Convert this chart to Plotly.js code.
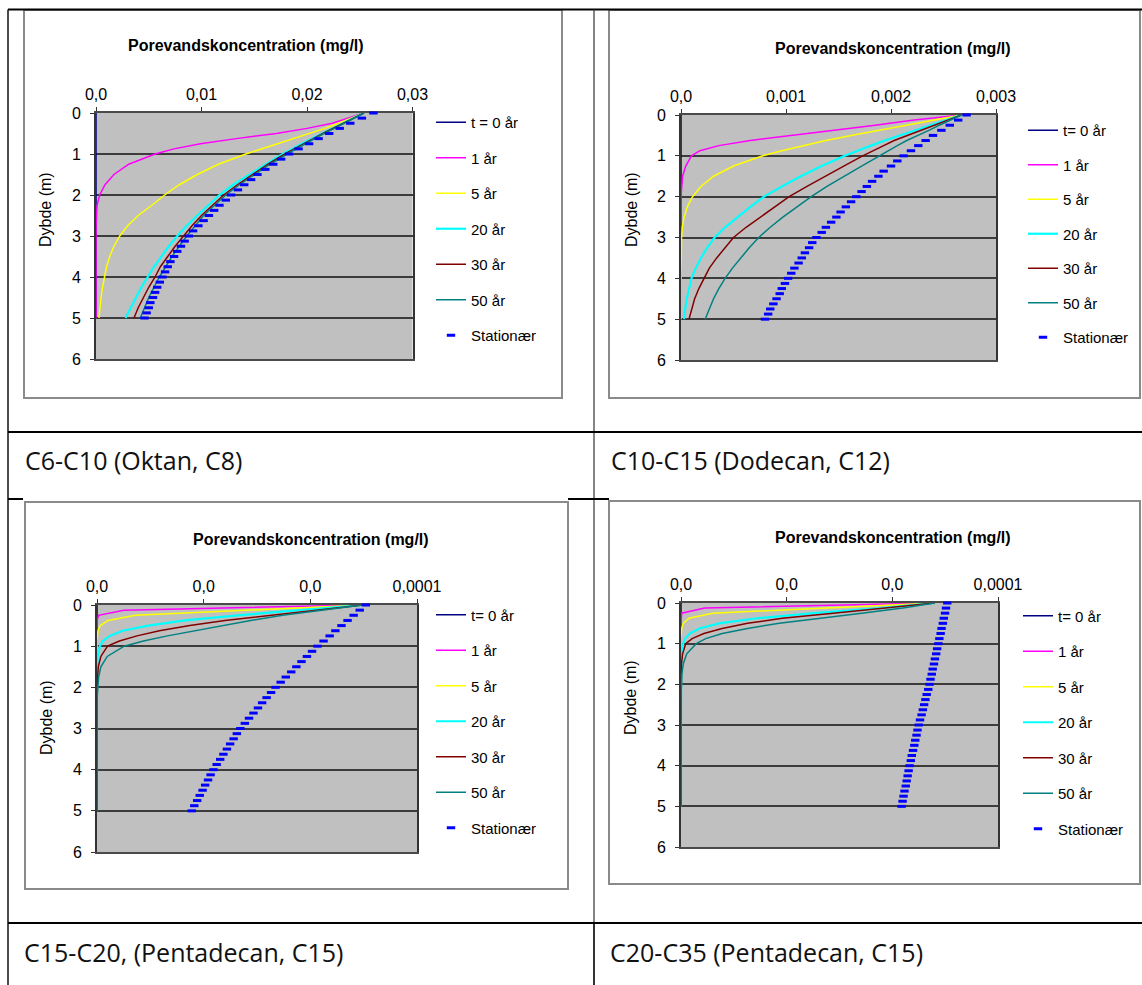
<!DOCTYPE html>
<html>
<head>
<meta charset="utf-8">
<script src="https://cdn.plot.ly/plotly-3.0.1.min.js"></script>
<style>
html,body{margin:0;padding:0;background:#fff;}
#chart{width:1142px;height:985px;}
</style>
</head>
<body>
<div id="chart"></div>
<script>
// ---------------- DATA ----------------
const chartTitle = 'Porevandskoncentration (mg/l)';
const yAxisTitle = 'Dybde (m)';
const captions = ['C6-C10 (Oktan, C8)', 'C10-C15 (Dodecan, C12)', 'C15-C20, (Pentadecan, C15)', 'C20-C35 (Pentadecan, C15)'];
const namesChart1 = ['t = 0 år', '1 år', '5 år', '20 år', '30 år', '50 år', 'Stationær'];
const namesOther  = ['t= 0 år', '1 år', '5 år', '20 år', '30 år', '50 år', 'Stationær'];

// depth (m)
const depthLines = [0,0.125,0.25,0.375,0.5,0.625,0.75,0.875,1,1.25,1.5,1.75,2,2.25,2.5,2.75,3,3.25,3.5,3.75,4,4.25,4.5,4.75,5];
const depthStation = [0,0.125,0.25,0.375,0.5,0.625,0.75,0.875,1,1.125,1.25,1.375,1.5,1.625,1.75,1.875,2,2.125,2.25,2.375,2.5,2.625,2.75,2.875,3,3.125,3.25,3.375,3.5,3.625,3.75,3.875,4,4.125,4.25,4.375,4.5,4.625,4.75,4.875,5];

const concT0 = [0,0,0,0,0,0,0,0,0,0,0,0,0,0,0,0,0,0,0,0,0,0,0,0,0];

// Chart 1: C6-C10 (values in 1e-3 mg/l)
const oktanUnit = 1e-3;
const oktan1 = [25.4,23.9,22.4,20.0,17.1,13.3,9.9,7.4,5.6,3.1,1.7,0.85,0.35,0.1,0.03,0.01,0,0,0,0,0,0,0,0,0];
const oktan5 = [25.4,24.25,23.0,21.7,20.2,18.7,17.2,15.7,14.2,11.6,9.6,7.9,6.5,5.3,4.0,3.0,2.25,1.7,1.3,1.0,0.8,0.62,0.48,0.37,0.28];
const oktan20 = [25.4,24.4,23.4,22.4,21.4,20.5,19.5,18.6,17.7,16.1,14.5,13.0,11.7,10.6,9.6,8.6,7.7,6.9,6.2,5.5,4.9,4.3,3.8,3.3,2.8];
const oktan30 = [25.4,24.4,23.5,22.5,21.5,20.6,19.7,18.8,17.9,16.3,14.8,13.4,12.1,11.0,10.0,9.1,8.3,7.5,6.8,6.1,5.6,5.0,4.5,4.0,3.6];
const oktan50 = [25.4,24.5,23.5,22.6,21.6,20.7,19.8,19.0,18.1,16.5,15.0,13.6,12.3,11.2,10.2,9.4,8.6,7.9,7.2,6.6,6.0,5.5,5.0,4.6,4.2];
const oktanStat = [26.3,25.2,24.1,23.1,22.1,21.1,20.2,19.2,18.3,17.55,16.8,16.05,15.3,14.7,14.05,13.45,12.8,12.3,11.7,11.2,10.7,10.2,9.7,9.2,8.8,8.4,8.05,7.7,7.4,7.05,6.8,6.55,6.3,6.05,5.8,5.6,5.4,5.15,5.0,4.8,4.6];

// Chart 2: C10-C15 (values in 1e-3 mg/l)
const dodecanUnit = 1e-3;
const dodecan1 = [2.67,2.22,1.85,1.47,1.06,0.66,0.36,0.18,0.10,0.045,0.015,0.005,0,0,0,0,0,0,0,0,0,0,0,0,0];
const dodecan5 = [2.67,2.40,2.14,1.87,1.62,1.38,1.16,0.96,0.78,0.50,0.31,0.19,0.11,0.06,0.03,0.012,0.005,0.002,0,0,0,0,0,0,0];
const dodecan20 = [2.67,2.52,2.37,2.22,2.08,1.94,1.81,1.68,1.56,1.34,1.14,0.96,0.79,0.66,0.54,0.42,0.32,0.25,0.19,0.14,0.10,0.075,0.055,0.04,0.03];
const dodecan30 = [2.67,2.54,2.41,2.28,2.15,2.03,1.93,1.83,1.73,1.55,1.37,1.20,1.03,0.89,0.75,0.62,0.50,0.42,0.34,0.27,0.22,0.17,0.13,0.10,0.076];
const dodecan50 = [2.67,2.56,2.46,2.36,2.25,2.15,2.06,1.97,1.89,1.72,1.55,1.39,1.24,1.10,0.97,0.85,0.74,0.65,0.57,0.49,0.42,0.36,0.31,0.27,0.23];
const dodecanStat = [2.72,2.64,2.56,2.48,2.40,2.33,2.26,2.19,2.12,2.06,2.00,1.93,1.88,1.82,1.77,1.72,1.67,1.62,1.57,1.52,1.48,1.43,1.38,1.34,1.29,1.25,1.22,1.18,1.15,1.12,1.08,1.05,1.02,0.99,0.96,0.94,0.91,0.88,0.85,0.83,0.80];

// Chart 3: C15-C20 (values in 1e-5 mg/l)
const penta1Unit = 1e-5;
const pentaA1 = [8.3,0.84,0.05,0,0,0,0,0,0,0,0,0,0,0,0,0,0,0,0,0,0,0,0,0,0];
const pentaA5 = [8.3,4.8,1.2,0.35,0.1,0.03,0.01,0,0,0,0,0,0,0,0,0,0,0,0,0,0,0,0,0,0];
const pentaA20 = [8.3,6.3,4.4,2.75,1.6,0.8,0.4,0.18,0.09,0.02,0.005,0,0,0,0,0,0,0,0,0,0,0,0,0,0];
const pentaA30 = [8.3,6.9,5.4,4.0,2.9,1.95,1.25,0.7,0.33,0.12,0.04,0.012,0.003,0,0,0,0,0,0,0,0,0,0,0,0];
const pentaA50 = [8.3,7.0,5.8,4.8,3.9,3.0,2.2,1.45,0.85,0.32,0.12,0.05,0.02,0.005,0,0,0,0,0,0,0,0,0,0,0];
const pentaAStat = [8.40,8.21,8.02,7.83,7.64,7.45,7.27,7.08,6.89,6.72,6.56,6.39,6.23,6.07,5.90,5.74,5.58,5.44,5.30,5.16,5.03,4.89,4.75,4.62,4.48,4.37,4.27,4.16,4.06,3.95,3.85,3.74,3.64,3.55,3.47,3.38,3.30,3.21,3.13,3.04,2.96];

// Chart 4: C20-C35 (values in 1e-5 mg/l)
const penta2Unit = 1e-5;
const pentaB1 = [8.0,0.75,0.02,0,0,0,0,0,0,0,0,0,0,0,0,0,0,0,0,0,0,0,0,0,0];
const pentaB5 = [8.0,4.6,1.0,0.25,0.07,0.02,0.005,0,0,0,0,0,0,0,0,0,0,0,0,0,0,0,0,0,0];
const pentaB20 = [8.0,6.3,4.2,2.4,1.2,0.58,0.28,0.13,0.07,0.02,0.005,0,0,0,0,0,0,0,0,0,0,0,0,0,0];
const pentaB30 = [8.0,6.5,4.8,3.2,2.1,1.3,0.72,0.35,0.15,0.05,0.015,0.005,0,0,0,0,0,0,0,0,0,0,0,0,0];
const pentaB50 = [8.0,7.0,5.7,4.4,3.1,2.1,1.3,0.78,0.48,0.18,0.07,0.03,0.01,0.003,0,0,0,0,0,0,0,0,0,0,0];
const pentaBStat = [8.40,8.36,8.33,8.29,8.26,8.22,8.19,8.15,8.12,8.08,8.05,8.01,7.98,7.94,7.91,7.87,7.84,7.80,7.75,7.71,7.67,7.63,7.59,7.54,7.50,7.46,7.43,7.39,7.36,7.32,7.28,7.25,7.21,7.18,7.15,7.12,7.09,7.05,7.02,6.99,6.96];

// axis ticks
const ticks1 = [0, 0.01, 0.02, 0.03];
const tickLabels1 = ['0,0', '0,01', '0,02', '0,03'];
const ticks2 = [0, 0.001, 0.002, 0.003];
const tickLabels2 = ['0,0', '0,001', '0,002', '0,003'];
const ticks3 = [0, 0.000033333, 0.000066667, 0.0001];
const tickLabels3 = ['0,0', '0,0', '0,0', '0,0001'];
const depthTicks = [0, 1, 2, 3, 4, 5, 6];

// ---------------- STYLE / LAYOUT ----------------
const W = 1142, H = 985;
const FONT = 'Liberation Sans, Arial, sans-serif';
const CAPFONT = 'Open Sans, Noto Sans, sans-serif';
const px = x => x / W;
const py = y => 1 - y / H;
const colors = ['#000080', '#FF00FF', '#FFFF00', '#00FFFF', '#800000', '#008080', '#0000FF'];
const widths = [1.5, 1.5, 1.5, 2.2, 1.5, 1.5];

const charts = [
  {series:[concT0, oktan1, oktan5, oktan20, oktan30, oktan50], stat:oktanStat, unit:oktanUnit, names:namesChart1,
   box:[96,113,412.5,359], frame:[24,10,562,398], title:[246,45], ytitle:[46,210], legend:[431,106], gap:13,
   range:[0,0.03], tickvals:ticks1, ticktext:tickLabels1},
  {series:[concT0, dodecan1, dodecan5, dodecan20, dodecan30, dodecan50], stat:dodecanStat, unit:dodecanUnit, names:namesOther,
   box:[681,115,996,360], frame:[609,10,1140,398], title:[893,49], ytitle:[632,210], legend:[1023,114], gap:12,
   range:[0,0.003], tickvals:ticks2, ticktext:tickLabels2},
  {series:[concT0, pentaA1, pentaA5, pentaA20, pentaA30, pentaA50], stat:pentaAStat, unit:penta1Unit, names:namesOther,
   box:[97,605,417,852], frame:[25,502,568,889], title:[311,539], ytitle:[46,718], legend:[431,598.5], gap:13,
   range:[0,0.0001], tickvals:ticks3, ticktext:tickLabels3},
  {series:[concT0, pentaB1, pentaB5, pentaB20, pentaB30, pentaB50], stat:pentaBStat, unit:penta2Unit, names:namesOther,
   box:[681,603,998,847], frame:[609,501,1140,884], title:[893,537], ytitle:[630,698], legend:[1018,599.5], gap:13,
   range:[0,0.0001], tickvals:ticks3, ticktext:tickLabels3}
];

const traces = [];
const layout = {
  width: W, height: H,
  margin: {l:0, r:0, t:0, b:0, pad:0},
  paper_bgcolor: '#ffffff',
  plot_bgcolor: '#C0C0C0',
  font: {family: FONT, size: 15, color: '#000'},
  showlegend: true,
  annotations: [],
  shapes: []
};

charts.forEach((c, i) => {
  const n = i === 0 ? '' : String(i + 1);
  const xa = 'xaxis' + n, ya = 'yaxis' + n;
  const legendId = 'legend' + n;
  layout[xa] = {
    domain: [px(c.box[0]), px(c.box[2])], anchor: 'y' + n, side: 'top',
    range: c.range, tickmode: 'array', tickvals: c.tickvals, ticktext: c.ticktext,
    ticks: 'outside', ticklen: 4, tickwidth: 1, tickcolor: '#333',
    showline: true, linecolor: '#4a4a4a', linewidth: 2, mirror: true,
    showgrid: false, zeroline: false, layer: 'below traces', automargin: false,
    ticklabelstandoff: 1,
    tickfont: {family: FONT, size: 16, color: '#000'}, fixedrange: true
  };
  layout[ya] = {
    domain: [py(c.box[3]), py(c.box[1])], anchor: 'x' + n,
    range: [6, 0], tickmode: 'array', tickvals: depthTicks,
    ticks: 'outside', ticklen: 4, tickwidth: 1, tickcolor: '#333',
    showline: true, linecolor: '#333', linewidth: 2, mirror: true,
    showgrid: true, gridcolor: '#3c3c3c', gridwidth: 2, zeroline: false,
    layer: 'below traces', automargin: false, ticklabelstandoff: 6,
    tickfont: {family: FONT, size: 16, color: '#000'}, fixedrange: true
  };
  layout[legendId] = {
    x: px(c.legend[0]), y: py(c.legend[1]), xanchor: 'left', yanchor: 'top',
    bgcolor: 'rgba(0,0,0,0)', borderwidth: 0, tracegroupgap: c.gap,
    traceorder: 'grouped', font: {family: FONT, size: 15, color: '#000'}
  };
  c.series.forEach((s, k) => {
    traces.push({
      type: 'scatter', mode: 'lines', name: c.names[k],
      x: s.map(v => v * c.unit), y: depthLines,
      xaxis: 'x' + n, yaxis: 'y' + n, legend: legendId, legendgroup: 'g' + i + '_' + k,
      line: {color: colors[k], width: widths[k]}, hoverinfo: 'skip'
    });
  });
  traces.push({
    type: 'scatter', mode: 'markers', name: c.names[6],
    x: c.stat.map(v => v * c.unit), y: depthStation,
    xaxis: 'x' + n, yaxis: 'y' + n, legend: legendId, legendgroup: 'g' + i + '_6',
    cliponaxis: false,
    marker: {symbol: 'line-ew', size: 6, color: colors[6], line: {color: colors[6], width: 3}},
    hoverinfo: 'skip'
  });
  // chart title
  layout.annotations.push({
    xref: 'paper', yref: 'paper', x: px(c.title[0]), y: py(c.title[1]),
    xanchor: 'center', yanchor: 'middle', showarrow: false,
    text: '<b>' + chartTitle + '</b>', font: {family: FONT, size: 16, color: '#000'}
  });
  // y axis title
  layout.annotations.push({
    xref: 'paper', yref: 'paper', x: px(c.ytitle[0]), y: py(c.ytitle[1]),
    xanchor: 'center', yanchor: 'middle', showarrow: false, textangle: -90,
    text: yAxisTitle, font: {family: FONT, size: 16, color: '#000'}
  });
  // chart frame
  layout.shapes.push({
    type: 'rect', xref: 'paper', yref: 'paper', layer: 'below',
    x0: px(c.frame[0]), x1: px(c.frame[2]), y0: py(c.frame[3]), y1: py(c.frame[1]),
    line: {color: '#8a8a8a', width: 2}, fillcolor: 'rgba(0,0,0,0)'
  });
});

// captions (table cells)
const capPos = [[23, 460], [609, 460], [22, 952], [608, 952]];
captions.forEach((t, i) => {
  layout.annotations.push({
    xref: 'paper', yref: 'paper', x: px(capPos[i][0]), y: py(capPos[i][1]),
    xanchor: 'left', yanchor: 'middle', showarrow: false,
    text: t, font: {family: CAPFONT, size: 25, color: '#111'}
  });
});

// table lines
function hline(y, x0, x1, w, col) {
  layout.shapes.push({type: 'line', xref: 'paper', yref: 'paper', layer: 'above',
    x0: px(x0), x1: px(x1), y0: py(y), y1: py(y), line: {color: col, width: w}});
}
function vline(x, y0, y1, w, col) {
  layout.shapes.push({type: 'line', xref: 'paper', yref: 'paper', layer: 'above',
    x0: px(x), x1: px(x), y0: py(y0), y1: py(y1), line: {color: col, width: w}});
}
hline(9.5, 8, 1142, 2, '#000');
vline(8, 9.5, 985, 1.5, '#111');
vline(594, 9.5, 923, 1.2, '#333');
vline(594, 923, 985, 1.6, '#000');
hline(432, 8, 1142, 2, '#000');
hline(499, 8, 23, 2, '#000');
hline(499, 568, 609, 2, '#000');
hline(923, 8, 1142, 2, '#000');

Plotly.newPlot('chart', traces, layout, {staticPlot: true, displayModeBar: false});
</script>
</body>
</html>
